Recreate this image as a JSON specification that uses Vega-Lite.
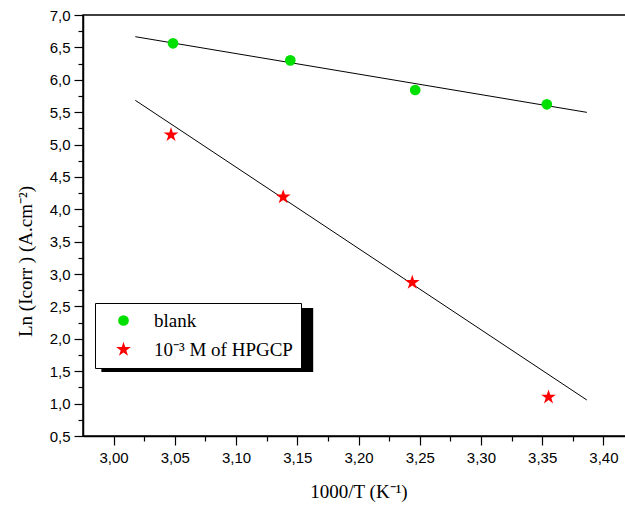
{
  "$schema": "https://vega.github.io/schema/vega-lite/v6.json",
  "width": 551,
  "height": 421,
  "autosize": {"type": "none"},
  "padding": {"left": 83, "top": 15, "right": 0, "bottom": 70},
  "background": "white",
  "config": {
    "view": {"stroke": "black", "strokeWidth": 1.5},
    "axis": {"labelFont": "Liberation Sans", "labelFontSize": 15, "labelColor": "black", "titleFont": "Liberation Serif", "titleFontSize": 19, "titleFontWeight": "normal", "titleColor": "black", "tickColor": "black", "domainColor": "black", "grid": false}
  },
  "datasets": {
    "points": [
      {"x": 3.0485, "y": 6.563, "series": "blank"},
      {"x": 3.1443, "y": 6.30, "series": "blank"},
      {"x": 3.2463, "y": 5.842, "series": "blank"},
      {"x": 3.3538, "y": 5.621, "series": "blank"},
      {"x": 3.0469, "y": 5.15, "series": "10⁻³ M of HPGCP"},
      {"x": 3.1385, "y": 4.19, "series": "10⁻³ M of HPGCP"},
      {"x": 3.2439, "y": 2.87, "series": "10⁻³ M of HPGCP"},
      {"x": 3.3552, "y": 1.10, "series": "10⁻³ M of HPGCP"}
    ],
    "fits": [
      {"x": 3.0177, "y": 6.665, "series": "blank"},
      {"x": 3.3865, "y": 5.497, "series": "blank"},
      {"x": 3.0177, "y": 5.683, "series": "10⁻³ M of HPGCP"},
      {"x": 3.3865, "y": 1.056, "series": "10⁻³ M of HPGCP"}
    ],
    "shadow": [
      {"x": 2.990, "x2": 3.163, "y": 2.476, "y2": 1.488}
    ]
  },
  "resolve": {"axis": {"x": "independent", "y": "independent"}},
  "layer": [
    {
      "data": {"name": "shadow"},
      "mark": {"type": "rect", "color": "black"},
      "encoding": {
        "x": {"field": "x", "type": "quantitative", "scale": {"domain": [2.975, 3.425], "nice": false, "zero": false}, "axis": null},
        "x2": {"field": "x2"},
        "y": {"field": "y", "type": "quantitative", "scale": {"domain": [0.5, 7.0], "nice": false, "zero": false}, "axis": null},
        "y2": {"field": "y2"}
      }
    },
    {
      "data": {"name": "fits"},
      "mark": {"type": "line", "color": "black", "strokeWidth": 1},
      "encoding": {
        "x": {"field": "x", "type": "quantitative", "scale": {"domain": [2.975, 3.425], "nice": false, "zero": false},
              "axis": {"orient": "bottom", "values": [3.025, 3.075, 3.125, 3.175, 3.225, 3.275, 3.325, 3.375], "labels": false, "domain": false, "tickSize": 5, "tickWidth": 1.2, "title": null}},
        "y": {"field": "y", "type": "quantitative", "scale": {"domain": [0.5, 7.0], "nice": false, "zero": false},
              "axis": {"orient": "left", "values": [0.75, 1.25, 1.75, 2.25, 2.75, 3.25, 3.75, 4.25, 4.75, 5.25, 5.75, 6.25, 6.75], "labels": false, "domain": false, "tickSize": 5, "tickWidth": 1.2, "title": null}},
        "detail": {"field": "series"}
      }
    },
    {
      "data": {"name": "points"},
      "mark": {"type": "point", "filled": true, "opacity": 1},
      "encoding": {
        "x": {"field": "x", "type": "quantitative", "scale": {"domain": [2.975, 3.425], "nice": false, "zero": false},
              "axis": {"orient": "bottom", "values": [3.0, 3.05, 3.1, 3.15, 3.2, 3.25, 3.3, 3.35, 3.4], "labelExpr": "replace(format(datum.value, '.2f'), '.', ',')", "tickSize": 9, "tickWidth": 1.2, "domainWidth": 1.5, "labelPadding": 5, "title": "1000/T (K⁻¹)", "titleY": 61, "titleBaseline": "alphabetic"}},
        "y": {"field": "y", "type": "quantitative", "scale": {"domain": [0.5, 7.0], "nice": false, "zero": false},
              "axis": {"orient": "left", "values": [0.5, 1.0, 1.5, 2.0, 2.5, 3.0, 3.5, 4.0, 4.5, 5.0, 5.5, 6.0, 6.5, 7.0], "labelExpr": "replace(format(datum.value, '.1f'), '.', ',')", "tickSize": 9, "tickWidth": 1.2, "domainWidth": 1.5, "labelPadding": 4, "title": "Ln (Icorr ) (A.cm⁻²)", "titleX": -58, "titleY": 246, "titleAngle": -90, "titleAlign": "center", "titleBaseline": "middle"}},
        "color": {"field": "series", "type": "nominal", "scale": {"domain": ["blank", "10⁻³ M of HPGCP"], "range": ["#00e000", "#ff0000"]},
                  "legend": {"title": null, "orient": "none", "legendX": 12, "legendY": 288, "fillColor": "white", "strokeColor": "black", "padding": 8, "symbolOffset": 11, "labelOffset": 21, "rowPadding": 9, "labelFont": "Liberation Serif", "labelFontSize": 19, "labelColor": "black", "symbolStrokeWidth": 0, "labelLimit": 300, "labelExpr": "datum.label + '\u2009\u2009'"}},
        "shape": {"field": "series", "type": "nominal", "scale": {"domain": ["blank", "10⁻³ M of HPGCP"], "range": ["circle", "M0,-1L0.2245,-0.309L0.951,-0.309L0.363,0.118L0.588,0.809L0,0.382L-0.588,0.809L-0.363,0.118L-0.951,-0.309L-0.2245,-0.309Z"]}},
        "size": {"field": "series", "type": "nominal", "scale": {"domain": ["blank", "10⁻³ M of HPGCP"], "range": [115, 240]}}
      }
    }
  ]
}
